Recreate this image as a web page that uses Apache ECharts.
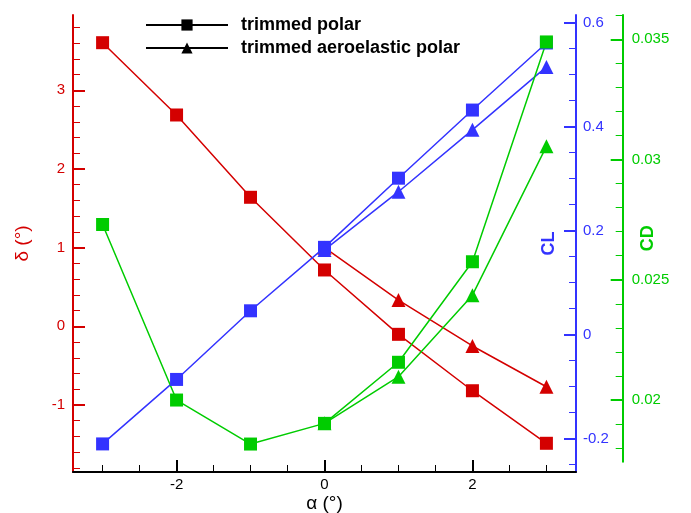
<!DOCTYPE html>
<html>
<head>
<meta charset="utf-8">
<script src="https://cdn.jsdelivr.net/npm/echarts@6/dist/echarts.min.js"></script>
<style>
html,body{margin:0;padding:0;background:#fff;}
#chart{width:691px;height:513px;}
</style>
</head>
<body>
<div id="chart"></div>
<script>
// ---- data ----
const alphaTrim = [-3, -2, -1, 0, 1, 2, 3];
const alphaAero = [0, 1, 2, 3];
const deltaTrim = [3.605, 2.686, 1.640, 0.716, -0.102, -0.819, -1.487];
const deltaAero = [1.0, 0.334, -0.250, -0.768];
const clTrim = [-0.210, -0.086, 0.046, 0.168, 0.301, 0.432, 0.561];
const clAero = [0.163, 0.275, 0.394, 0.515];
const cdTrim = [0.02730, 0.02000, 0.01817, 0.01903, 0.02157, 0.02575, 0.03489];
const cdAero = [0.01903, 0.02097, 0.02436, 0.03055];
const legendNames = ['trimmed polar', 'trimmed aeroelastic polar'];

// ---- tick labels ----
const xTicks = [-2, 0, 2];
const xMinor = [-3, -2.5, -1.5, -1, -0.5, 0.5, 1, 1.5, 2.5, 3];
const deltaTicks = [-1, 0, 1, 2, 3];
const deltaMinor = [-1.8, -1.6, -1.4, -1.2, -0.8, -0.6, -0.4, -0.2, 0.2, 0.4, 0.6, 0.8, 1.2, 1.4, 1.6, 1.8, 2.2, 2.4, 2.6, 2.8, 3.2, 3.4, 3.6, 3.8];
const clTicks = [-0.2, 0, 0.2, 0.4, 0.6];
const clMinor = [-0.25, -0.15, -0.1, -0.05, 0.05, 0.1, 0.15, 0.25, 0.3, 0.35, 0.45, 0.5, 0.55];
const cdTicks = [0.02, 0.025, 0.03, 0.035];
const cdMinor = [0.018, 0.019, 0.021, 0.022, 0.023, 0.024, 0.026, 0.027, 0.028, 0.029, 0.031, 0.032, 0.033, 0.034, 0.036];

const RED = '#d40000', BLUE = '#3333ff', GREEN = '#00cc00', BLACK = '#000000';
const FONT = "'Liberation Sans', Arial, Helvetica, sans-serif";

function pairs(xs, ys) { return xs.map((x, i) => [x, ys[i]]); }

function majorAxis(base, color, ticks, margin) {
  return Object.assign({
    type: 'value',
    nameMoveOverlap: false,
    axisLine: { show: true, onZero: false, lineStyle: { color: color, width: 2 } },
    axisTick: { show: true, inside: true, length: 12, customValues: ticks, lineStyle: { color: color, width: 2 } },
    axisLabel: { show: true, customValues: ticks, margin: margin, color: color, fontSize: 15, fontFamily: FONT },
    splitLine: { show: false }
  }, base);
}
function minorAxis(base, color, ticks) {
  return Object.assign({
    type: 'value',
    axisLine: { show: false, onZero: false },
    axisTick: { show: true, inside: true, length: 7, customValues: ticks, lineStyle: { color: color, width: 1 } },
    axisLabel: { show: false, customValues: ticks },
    splitLine: { show: false }
  }, base);
}

const XMIN = -3.4, XMAX = 3.4;
const DMIN = -1.852, DMAX = 3.957;
const CLMIN = -0.264, CLMAX = 0.6148;
const CDMIN = 0.017436, CDMAX = 0.036010;

function line(name, xs, ys, xi, yi, color, sym, size) {
  return {
    name: name, type: 'line', xAxisIndex: xi, yAxisIndex: yi,
    data: pairs(xs, ys), symbol: sym, symbolSize: size,
    itemStyle: { color: color }, lineStyle: { color: color, width: 1.5 },
    emphasis: { disabled: true }, animation: false
  };
}

const chart = echarts.init(document.getElementById('chart'), null, { renderer: 'canvas' });
chart.setOption({
  animation: false,
  backgroundColor: '#ffffff',
  grid: [
    { left: 73, right: 115, top: 15, bottom: 41, containLabel: false, outerBoundsMode: 'none' },
    { left: 73, right: 115, top: 15, bottom: 51.3, containLabel: false, outerBoundsMode: 'none' }
  ],
  legend: {
    data: legendNames,
    orient: 'vertical',
    left: 145, top: 16,
    padding: 0,
    itemWidth: 82, itemHeight: 14, itemGap: 5,
    selectedMode: false,
    textStyle: { fontSize: 18, fontWeight: 'bold', color: BLACK, fontFamily: FONT, padding: [0, 0, 0, 8] }
  },
  xAxis: [
    majorAxis({ gridIndex: 0, position: 'bottom', min: XMIN, max: XMAX,
      name: 'α (°)', nameLocation: 'middle', nameGap: 22,
      nameTextStyle: { color: BLACK, fontSize: 19, fontFamily: FONT } }, BLACK, xTicks, 5),
    minorAxis({ gridIndex: 0, position: 'bottom', min: XMIN, max: XMAX }, BLACK, xMinor),
    { type: 'value', gridIndex: 1, position: 'bottom', min: XMIN, max: XMAX, show: false }
  ],
  yAxis: [
    majorAxis({ gridIndex: 0, position: 'left', min: DMIN, max: DMAX,
      name: 'δ (°)', nameLocation: 'middle', nameGap: 41,
      nameTextStyle: { color: RED, fontSize: 19, fontFamily: FONT } }, RED, deltaTicks, 8),
    minorAxis({ gridIndex: 0, position: 'left', min: DMIN, max: DMAX }, RED, deltaMinor),
    majorAxis({ gridIndex: 0, position: 'right', min: CLMIN, max: CLMAX,
      name: 'CL', nameLocation: 'middle', nameGap: -36,
      nameTextStyle: { color: BLUE, fontSize: 18, fontWeight: 'bold', fontFamily: FONT } }, BLUE, clTicks, 7),
    minorAxis({ gridIndex: 0, position: 'right', min: CLMIN, max: CLMAX }, BLUE, clMinor),
    majorAxis({ gridIndex: 1, position: 'right', offset: 46.7, min: CDMIN, max: CDMAX,
      name: 'CD', nameLocation: 'middle', nameGap: 16,
      nameTextStyle: { color: GREEN, fontSize: 18, fontWeight: 'bold', fontFamily: FONT } }, GREEN, cdTicks, 9),
    minorAxis({ gridIndex: 1, position: 'right', offset: 46.7, min: CDMIN, max: CDMAX }, GREEN, cdMinor)
  ],
  series: [
    { name: legendNames[0], type: 'line', data: [], xAxisIndex: 0, yAxisIndex: 0, symbol: 'rect', symbolSize: 11,
      itemStyle: { color: BLACK }, lineStyle: { color: BLACK, width: 2 } },
    { name: legendNames[1], type: 'line', data: [], xAxisIndex: 0, yAxisIndex: 0, symbol: 'triangle', symbolSize: 11,
      itemStyle: { color: BLACK }, lineStyle: { color: BLACK, width: 2 } },
    line('δ trimmed', alphaTrim, deltaTrim, 0, 0, RED, 'rect', 13),
    line('δ aeroelastic', alphaAero, deltaAero, 0, 0, RED, 'triangle', 14),
    line('CL trimmed', alphaTrim, clTrim, 0, 2, BLUE, 'rect', 13),
    line('CL aeroelastic', alphaAero, clAero, 0, 2, BLUE, 'triangle', 14),
    line('CD trimmed', alphaTrim, cdTrim, 2, 4, GREEN, 'rect', 13),
    line('CD aeroelastic', alphaAero, cdAero, 2, 4, GREEN, 'triangle', 14)
  ]
});
</script>
</body>
</html>
